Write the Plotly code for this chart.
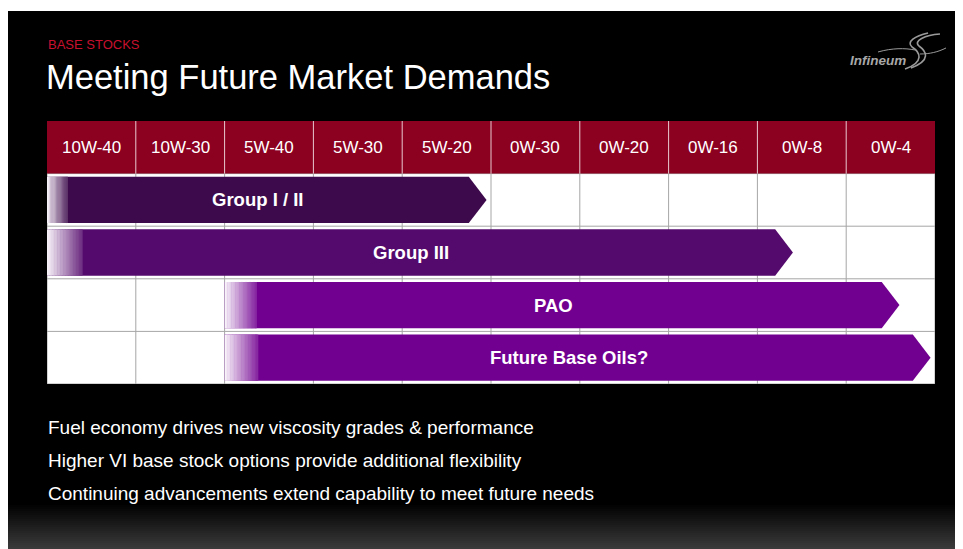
import plotly.graph_objects as go

# viscosity grades across the header
grades = ["10W-40", "10W-30", "5W-40", "5W-30", "5W-20",
          "0W-30", "0W-20", "0W-16", "0W-8", "0W-4"]

# base stock groups and the span of grades they cover (in grade columns)
groups = ["Group I / II", "Group III", "PAO", "Future Base Oils?"]
span_start = [0.0, 0.0, 2.0, 2.0]
span_end = [4.95, 8.4, 9.6, 9.95]
group_colors = ["#3d0b4c", "#540a6c", "#710090", "#710090"]

bullets = ["Fuel economy drives new viscosity grades & performance",
           "Higher VI base stock options provide additional flexibility",
           "Continuing advancements extend capability to meet future needs"]

# page has an 8px body margin, so the figure itself is a bit smaller
OFF = 8
W, H = 963 - OFF, 549 - OFF
FONT = "Liberation Sans, Arial, sans-serif"
TIP = 0.2      # arrow head length, in columns
PAD = 0.06     # vertical padding of bars inside a row
FADE = 0.047   # white fade at bar start, as a share of bar length


def px(x):
    return (x - OFF) / W


def py(y):
    return 1 - (y - OFF) / H


def mix(c1, c2, t):
    a = [int(c1[i:i + 2], 16) for i in (1, 3, 5)]
    b = [int(c2[i:i + 2], 16) for i in (1, 3, 5)]
    return "rgb({},{},{})".format(*[round(a[k] + (b[k] - a[k]) * t) for k in range(3)])


def pix_path(d):
    # turn a path written in screen pixels into paper coordinates
    out, nums = [], []
    for t in d.split():
        if t.isalpha():
            out.append(t)
        else:
            nums.append(float(t))
            if len(nums) == 2:
                out.append("{:.4f},{:.4f}".format(px(nums[0]), py(nums[1])))
                nums = []
    return " ".join(out)


fig = go.Figure()
shapes = []
annotations = []

# slide background: black slide, grey glow at the bottom
shapes.append(dict(type="rect", xref="paper", yref="paper", x0=0, x1=1, y0=0, y1=py(11),
                   fillcolor="black", line_width=0, layer="below"))
steps = 22
for i in range(steps):
    y0 = 505 + i * (549 - 505) / steps
    y1 = 505 + (i + 1) * (549 - 505) / steps + 0.6
    shapes.append(dict(type="rect", xref="paper", yref="paper", x0=0, x1=1, y0=py(min(y1, 549)), y1=py(y0),
                       fillcolor=mix("#000000", "#3a3a3a", (i + 1) / steps), line_width=0, layer="below"))

# table body and header
shapes.append(dict(type="rect", xref="x", yref="y", x0=0, x1=10, y0=0, y1=4,
                   fillcolor="white", line=dict(color="#a6a6a6", width=1), layer="below"))
shapes.append(dict(type="rect", xref="x", yref="y", x0=0, x1=10, y0=-1, y1=0,
                   fillcolor="#8c0020", line_width=0, layer="below"))
for i in range(1, 10):
    shapes.append(dict(type="line", xref="x", yref="y", x0=i, x1=i, y0=-1, y1=0,
                       line=dict(color="#e9c9d0", width=1), layer="below"))
    shapes.append(dict(type="line", xref="x", yref="y", x0=i, x1=i, y0=0, y1=4,
                       line=dict(color="#a6a6a6", width=1), layer="below"))
for r in range(1, 4):
    shapes.append(dict(type="line", xref="x", yref="y", x0=0, x1=10, y0=r, y1=r,
                       line=dict(color="#a6a6a6", width=1), layer="below"))

for i, g in enumerate(grades):
    annotations.append(dict(x=i + 0.5, y=-0.5, xref="x", yref="y", text=g, showarrow=False,
                            font=dict(family=FONT, size=17, color="white")))

# arrow bars
for r, (name, s, e, c) in enumerate(zip(groups, span_start, span_end, group_colors)):
    top, bot, mid = r + PAD, r + 1 - PAD, r + 0.5
    body = e - TIP
    fig.add_trace(go.Scatter(x=[s, body, e, body, s, s], y=[top, top, mid, bot, bot, top],
                             mode="lines", fill="toself", fillcolor=c, line=dict(width=0, color=c),
                             hoverinfo="skip", showlegend=False))
    # white fade at the start: thin slices, each a touch wider than its step
    fw = FADE * (e - s)
    n = 24
    for k in range(n):
        shapes.append(dict(type="rect", xref="x", yref="y",
                           x0=s + fw * k / n, x1=s + fw * (k + 1.4) / n, y0=top, y1=bot,
                           fillcolor=mix("#faf6fb", c, (k + 0.5) / n * 0.85), line_width=0,
                           layer="above"))
    annotations.append(dict(x=(s + body) / 2, y=mid, xref="x", yref="y", text="<b>" + name + "</b>",
                            showarrow=False, font=dict(family=FONT, size=18.5, color="white")))

# titles
annotations.append(dict(x=px(46), y=py(45), xref="paper", yref="paper", text="BASE STOCKS",
                        showarrow=False, xanchor="left", yanchor="middle",
                        font=dict(family=FONT, size=13, color="#c8102e")))
annotations.append(dict(x=px(44), y=py(77), xref="paper", yref="paper", text="Meeting Future Market Demands",
                        showarrow=False, xanchor="left", yanchor="middle",
                        font=dict(family=FONT, size=34.5, color="white")))

# logo
annotations.append(dict(x=px(908), y=py(60), xref="paper", yref="paper", text="<b><i>Infineum</i></b>",
                        showarrow=False, xanchor="right", yanchor="middle",
                        font=dict(family=FONT, size=13.5, color="#a8a8a8")))
for d, w in [("M 905 69 C 925 62 920 52 912 47 C 906 42 915 36 928 33", 1.6),
             ("M 911 68 C 932 60 926 51 919 46 C 913 41 925 35 940 34", 1.6),
             ("M 878 52 C 892 48 905 48 915 50", 1.0),
             ("M 920 54 C 930 54 938 52 946 48", 1.0)]:
    shapes.append(dict(type="path", xref="paper", yref="paper", path=pix_path(d),
                       line=dict(color="#9a9a9a", width=w)))

# bullet points
for i, b in enumerate(bullets):
    annotations.append(dict(x=px(46), y=py(428 + i * 32.5), xref="paper", yref="paper", text=b,
                            showarrow=False, xanchor="left", yanchor="middle",
                            font=dict(family=FONT, size=19, color="white")))

fig.update_layout(
    width=W, height=H,
    margin=dict(l=0, r=0, t=0, b=0),
    paper_bgcolor="white",
    plot_bgcolor="rgba(0,0,0,0)",
    xaxis=dict(range=[0, 10], domain=[px(47), px(935)], visible=False, fixedrange=True),
    yaxis=dict(range=[4, -1], domain=[py(384), py(121)], visible=False, fixedrange=True),
    shapes=shapes,
    annotations=annotations,
    showlegend=False,
)

fig.write_html("out.html", config={"displayModeBar": False})
